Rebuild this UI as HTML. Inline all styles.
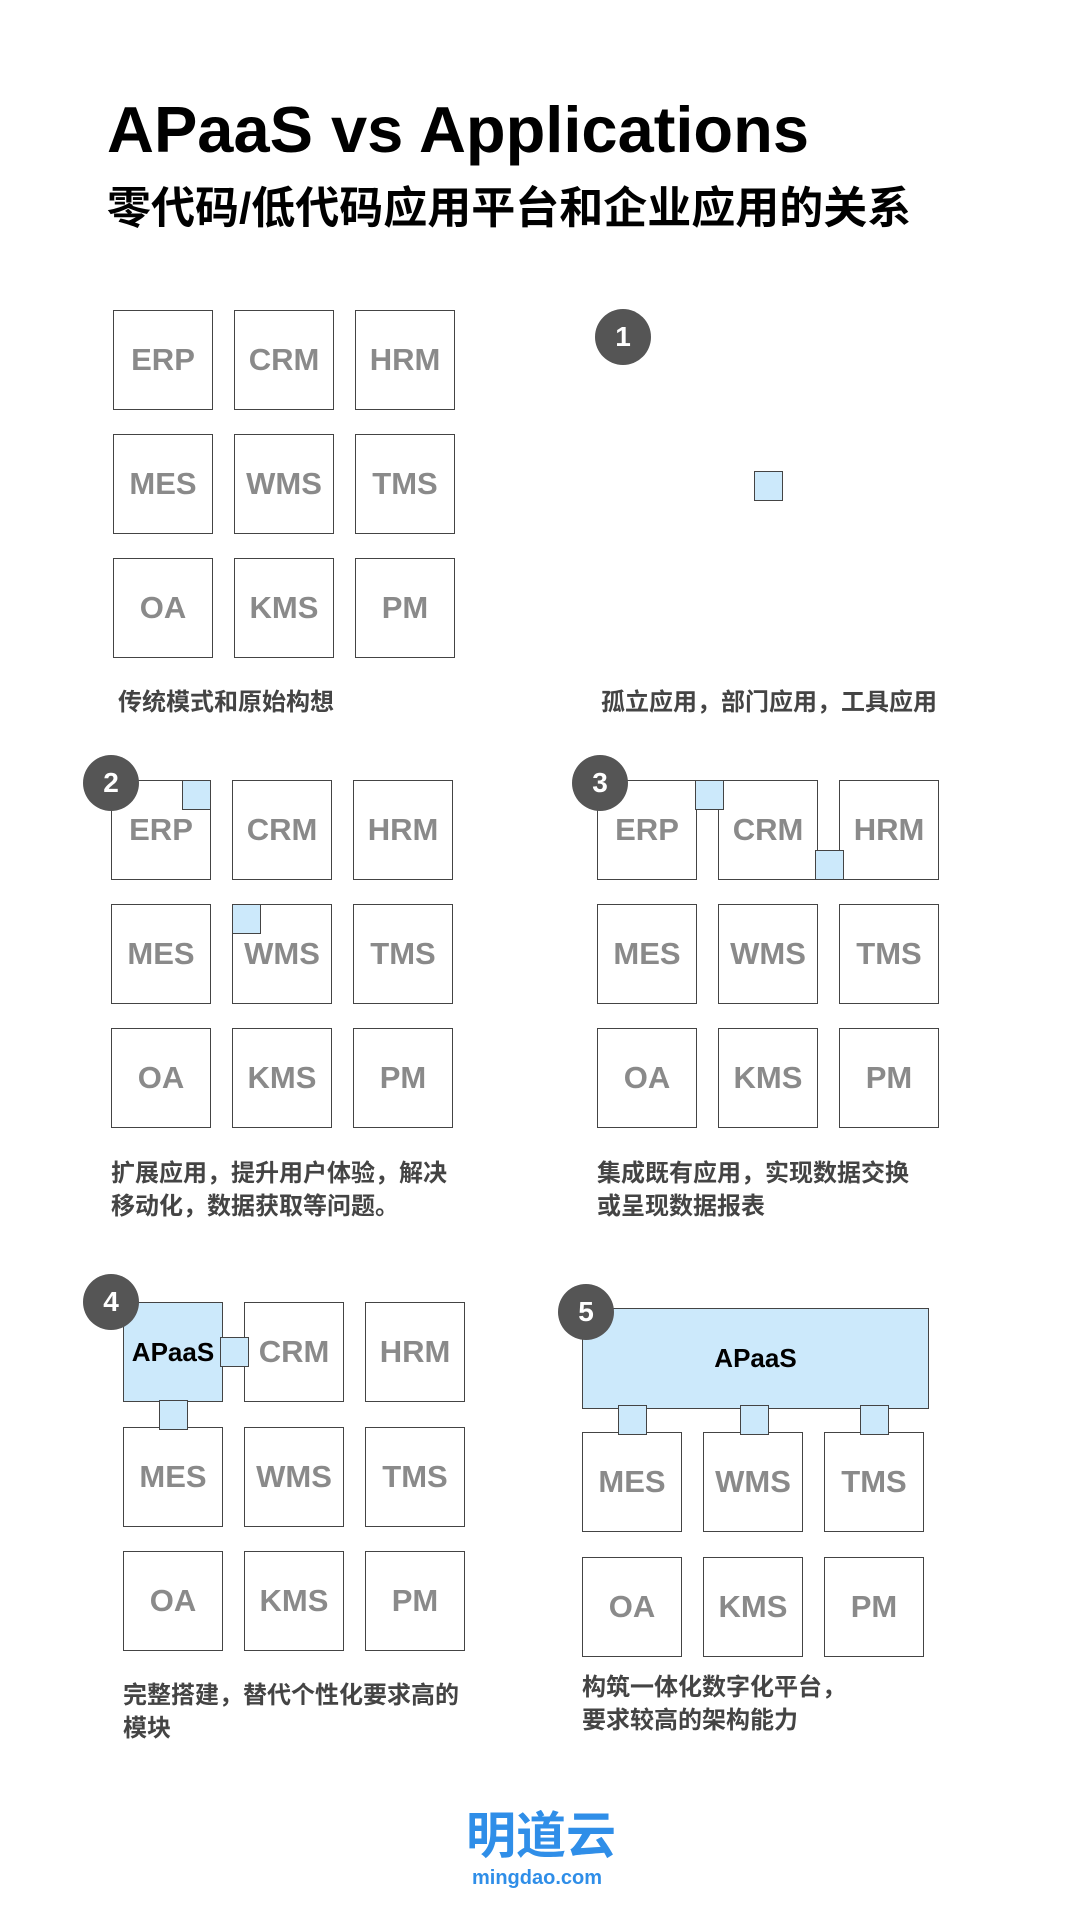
<!DOCTYPE html>
<html><head><meta charset="utf-8"><style>
body{margin:0;width:1080px;height:1920px;background:#fff;position:relative;overflow:hidden;font-family:"Liberation Sans","Noto Sans CJK SC",sans-serif}
.b{position:absolute;width:100px;height:100px;border:1.5px solid #444;box-sizing:border-box;background:#fff;color:#8a8a8a;font-weight:bold;font-size:31px;display:flex;align-items:center;justify-content:center}
.s{position:absolute;width:29px;height:30px;border:1.5px solid #444;box-sizing:border-box;background:#cce9fb}
.c{position:absolute;width:56px;height:56px;border-radius:50%;background:#555;color:#fff;font-weight:bold;font-size:28px;display:flex;align-items:center;justify-content:center;margin:-28px 0 0 -28px}
.t{position:absolute;font-weight:bold;font-size:24px;color:#444;line-height:33px;white-space:nowrap}
.blue{background:#cce9fb;color:#000;font-size:26px}
</style></head><body>
<div style="position:absolute;left:107px;top:92px;font-size:65px;font-weight:bold;color:#000;white-space:nowrap">APaaS vs Applications</div>
<div style="position:absolute;left:107px;top:172px;font-size:44px;font-weight:bold;color:#000;white-space:nowrap">零代码/低代码应用平台和企业应用的关系</div>

<div class="b" style="left:113px;top:310px">ERP</div><div class="b" style="left:234px;top:310px">CRM</div><div class="b" style="left:355px;top:310px">HRM</div>
<div class="b" style="left:113px;top:434px">MES</div><div class="b" style="left:234px;top:434px">WMS</div><div class="b" style="left:355px;top:434px">TMS</div>
<div class="b" style="left:113px;top:558px">OA</div><div class="b" style="left:234px;top:558px">KMS</div><div class="b" style="left:355px;top:558px">PM</div>
<div class="t" style="left:118px;top:686px">传统模式和原始构想</div>

<div class="c" style="left:623px;top:337px">1</div>
<div class="s" style="left:754px;top:471px"></div>
<div class="t" style="left:601px;top:686px">孤立应用，部门应用，工具应用</div>

<div class="b" style="left:111px;top:780px">ERP</div><div class="b" style="left:232px;top:780px">CRM</div><div class="b" style="left:353px;top:780px">HRM</div>
<div class="b" style="left:111px;top:904px">MES</div><div class="b" style="left:232px;top:904px">WMS</div><div class="b" style="left:353px;top:904px">TMS</div>
<div class="b" style="left:111px;top:1028px">OA</div><div class="b" style="left:232px;top:1028px">KMS</div><div class="b" style="left:353px;top:1028px">PM</div>
<div class="s" style="left:182px;top:780px"></div>
<div class="s" style="left:232px;top:904px"></div>
<div class="c" style="left:111px;top:783px">2</div>
<div class="t" style="left:111px;top:1157px">扩展应用，提升用户体验，解决<br>移动化，数据获取等问题。</div>

<div class="b" style="left:597px;top:780px">ERP</div><div class="b" style="left:718px;top:780px">CRM</div><div class="b" style="left:839px;top:780px">HRM</div>
<div class="b" style="left:597px;top:904px">MES</div><div class="b" style="left:718px;top:904px">WMS</div><div class="b" style="left:839px;top:904px">TMS</div>
<div class="b" style="left:597px;top:1028px">OA</div><div class="b" style="left:718px;top:1028px">KMS</div><div class="b" style="left:839px;top:1028px">PM</div>
<div class="s" style="left:695px;top:780px"></div>
<div class="s" style="left:815px;top:850px"></div>
<div class="c" style="left:600px;top:783px">3</div>
<div class="t" style="left:597px;top:1157px">集成既有应用，实现数据交换<br>或呈现数据报表</div>

<div class="b blue" style="left:123px;top:1302px">APaaS</div><div class="b" style="left:244px;top:1302px">CRM</div><div class="b" style="left:365px;top:1302px">HRM</div>
<div class="b" style="left:123px;top:1427px">MES</div><div class="b" style="left:244px;top:1427px">WMS</div><div class="b" style="left:365px;top:1427px">TMS</div>
<div class="b" style="left:123px;top:1551px">OA</div><div class="b" style="left:244px;top:1551px">KMS</div><div class="b" style="left:365px;top:1551px">PM</div>
<div class="s" style="left:220px;top:1337px"></div>
<div class="s" style="left:159px;top:1400px"></div>
<div class="c" style="left:111px;top:1302px">4</div>
<div class="t" style="left:123px;top:1679px">完整搭建，替代个性化要求高的<br>模块</div>

<div class="b blue" style="left:582px;top:1308px;width:347px;height:101px">APaaS</div>
<div class="b" style="left:582px;top:1432px">MES</div><div class="b" style="left:703px;top:1432px">WMS</div><div class="b" style="left:824px;top:1432px">TMS</div>
<div class="b" style="left:582px;top:1557px">OA</div><div class="b" style="left:703px;top:1557px">KMS</div><div class="b" style="left:824px;top:1557px">PM</div>
<div class="s" style="left:618px;top:1405px"></div>
<div class="s" style="left:740px;top:1405px"></div>
<div class="s" style="left:860px;top:1405px"></div>
<div class="c" style="left:586px;top:1312px">5</div>
<div class="t" style="left:582px;top:1671px">构筑一体化数字化平台，<br>要求较高的架构能力</div>

<div style="position:absolute;left:466px;top:1806px;font-size:50px;font-weight:bold;color:#2f8ee8;white-space:nowrap;line-height:60px">明道云</div>
<div style="position:absolute;left:472px;top:1866px;font-size:20px;font-weight:bold;color:#2f8ee8;white-space:nowrap;line-height:24px">mingdao.com</div>
</body></html>
